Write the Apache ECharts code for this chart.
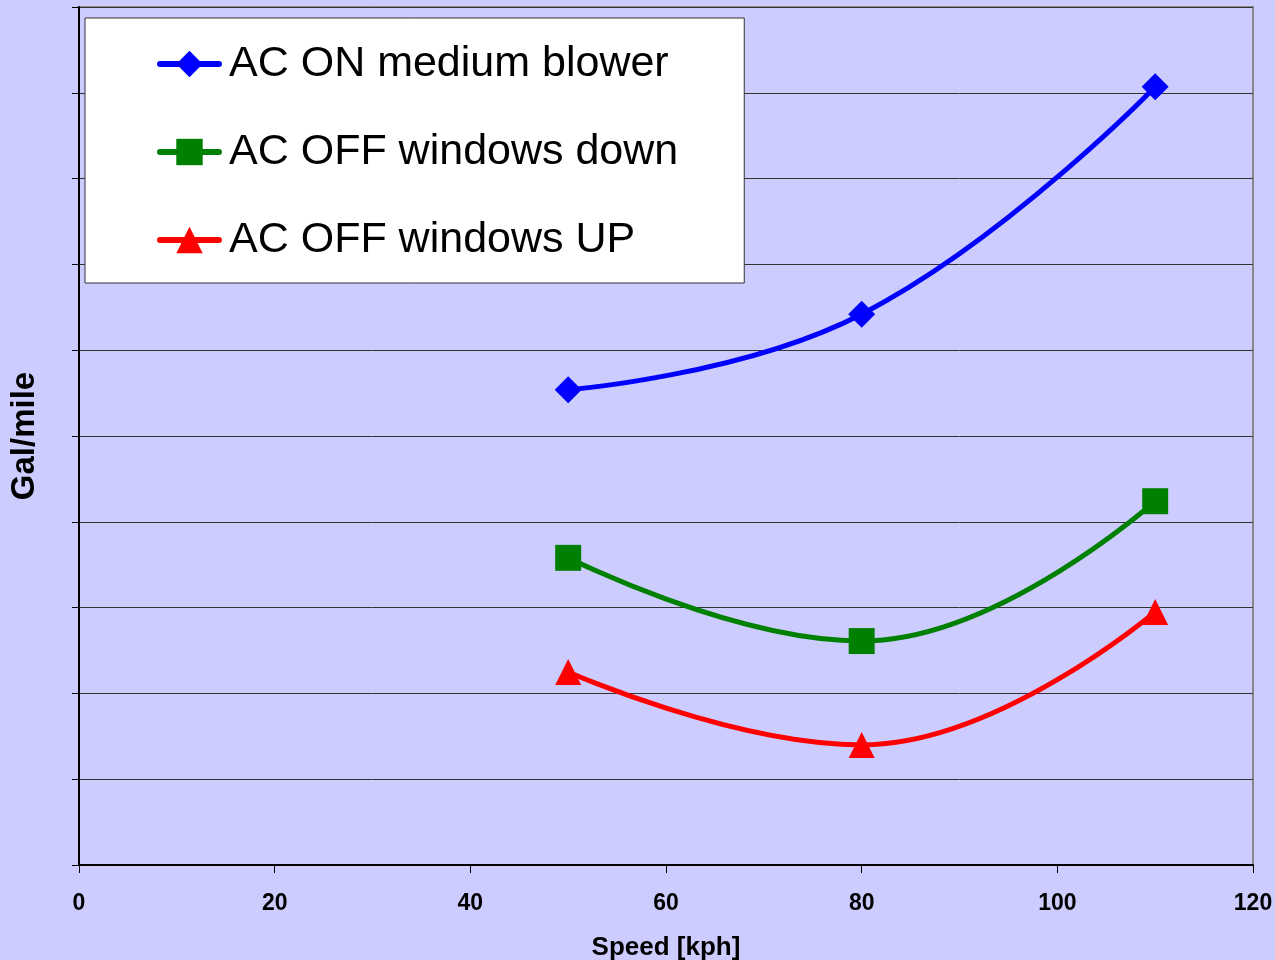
<!DOCTYPE html>
<html>
<head>
<meta charset="utf-8">
<script src="https://cdn.jsdelivr.net/npm/echarts@6/dist/echarts.min.js"></script>
<style>
  html, body { margin: 0; padding: 0; background: #CCCCFF; }
  #chart { width: 1275px; height: 960px; }
</style>
</head>
<body>
<div id="chart"></div>
<script>
// Fuel use per mile at three cruising speeds (relative units, one per gridline)
const speeds = [50, 80, 110];
const acOnMedium = [5.54, 6.42, 9.07];
const acOffWindowsDown = [3.58, 2.61, 4.24];
const acOffWindowsUp = [2.25, 1.40, 2.95];
const seriesNames = ['AC ON medium blower', 'AC OFF windows down', 'AC OFF windows UP'];
const xTicks = [0, 20, 40, 60, 80, 100, 120];

const font = '"Liberation Sans", Arial, sans-serif';

function pairs(values) {
  return speeds.map((s, i) => [s, values[i]]);
}

function lineSeries(name, values, color, symbol, size) {
  return {
    name: name,
    type: 'line',
    smooth: 0.45,
    data: pairs(values),
    symbol: symbol,
    symbolSize: size,
    showAllSymbol: true,
    lineStyle: { color: color, width: 5 },
    itemStyle: { color: color },
    emphasis: { disabled: true },
    z: 3
  };
}

const chart = echarts.init(document.getElementById('chart'), null, { renderer: 'canvas' });
chart.setOption({
  animation: false,
  backgroundColor: '#CCCCFF',
  grid: {
    left: 79, right: 22, top: 7, bottom: 95,
    outerBoundsMode: 'none',
    containLabel: false,
    show: true,
    borderColor: '#8A8A8A',
    borderWidth: 2,
    backgroundColor: 'transparent'
  },
  legend: {
    left: 85,
    top: 18,
    orient: 'vertical',
    backgroundColor: '#FFFFFF',
    borderColor: '#333333',
    borderWidth: 1,
    borderRadius: 0,
    padding: [20, 66, 17, 72],
    itemWidth: 59,
    itemHeight: 33,
    itemGap: 36,
    data: seriesNames,
    lineStyle: { width: 6, cap: 'round' },
    textStyle: {
      fontFamily: font,
      fontSize: 43,
      color: '#000000',
      lineHeight: 48,
      padding: [4, 0, 0, 5]
    }
  },
  xAxis: {
    type: 'value',
    min: 0,
    max: 120,
    interval: 20,
    name: 'Speed [kph]',
    nameLocation: 'middle',
    nameGap: 70,
    nameTextStyle: { fontFamily: font, fontSize: 26, fontWeight: 'bold', color: '#000' },
    axisLine: { show: true, onZero: false, lineStyle: { color: '#000', width: 2 } },
    axisTick: { show: true, inside: false, length: 8, lineStyle: { color: '#000', width: 1 } },
    axisLabel: {
      fontFamily: font, fontSize: 23, fontWeight: 'bold', color: '#000', margin: 27,
      formatter: v => xTicks.includes(v) ? String(v) : ''
    },
    splitLine: { show: false }
  },
  yAxis: {
    type: 'value',
    min: 0,
    max: 10,
    interval: 1,
    name: 'Gal/mile',
    nameLocation: 'middle',
    nameGap: 38,
    nameRotate: 90,
    nameTextStyle: { fontFamily: font, fontSize: 33, fontWeight: 'bold', color: '#000' },
    axisLine: { show: true, lineStyle: { color: '#000', width: 2 } },
    axisTick: { show: true, inside: false, length: 7, lineStyle: { color: '#000', width: 1 } },
    axisLabel: { show: false },
    splitLine: { show: true, lineStyle: { color: '#333333', width: 1 } }
  },
  series: [
    lineSeries(seriesNames[0], acOnMedium, '#0000FF', 'diamond', 27),
    lineSeries(seriesNames[1], acOffWindowsDown, '#008000', 'rect', 26),
    lineSeries(seriesNames[2], acOffWindowsUp, '#FF0000', 'triangle', 26)
  ]
});
</script>
</body>
</html>
